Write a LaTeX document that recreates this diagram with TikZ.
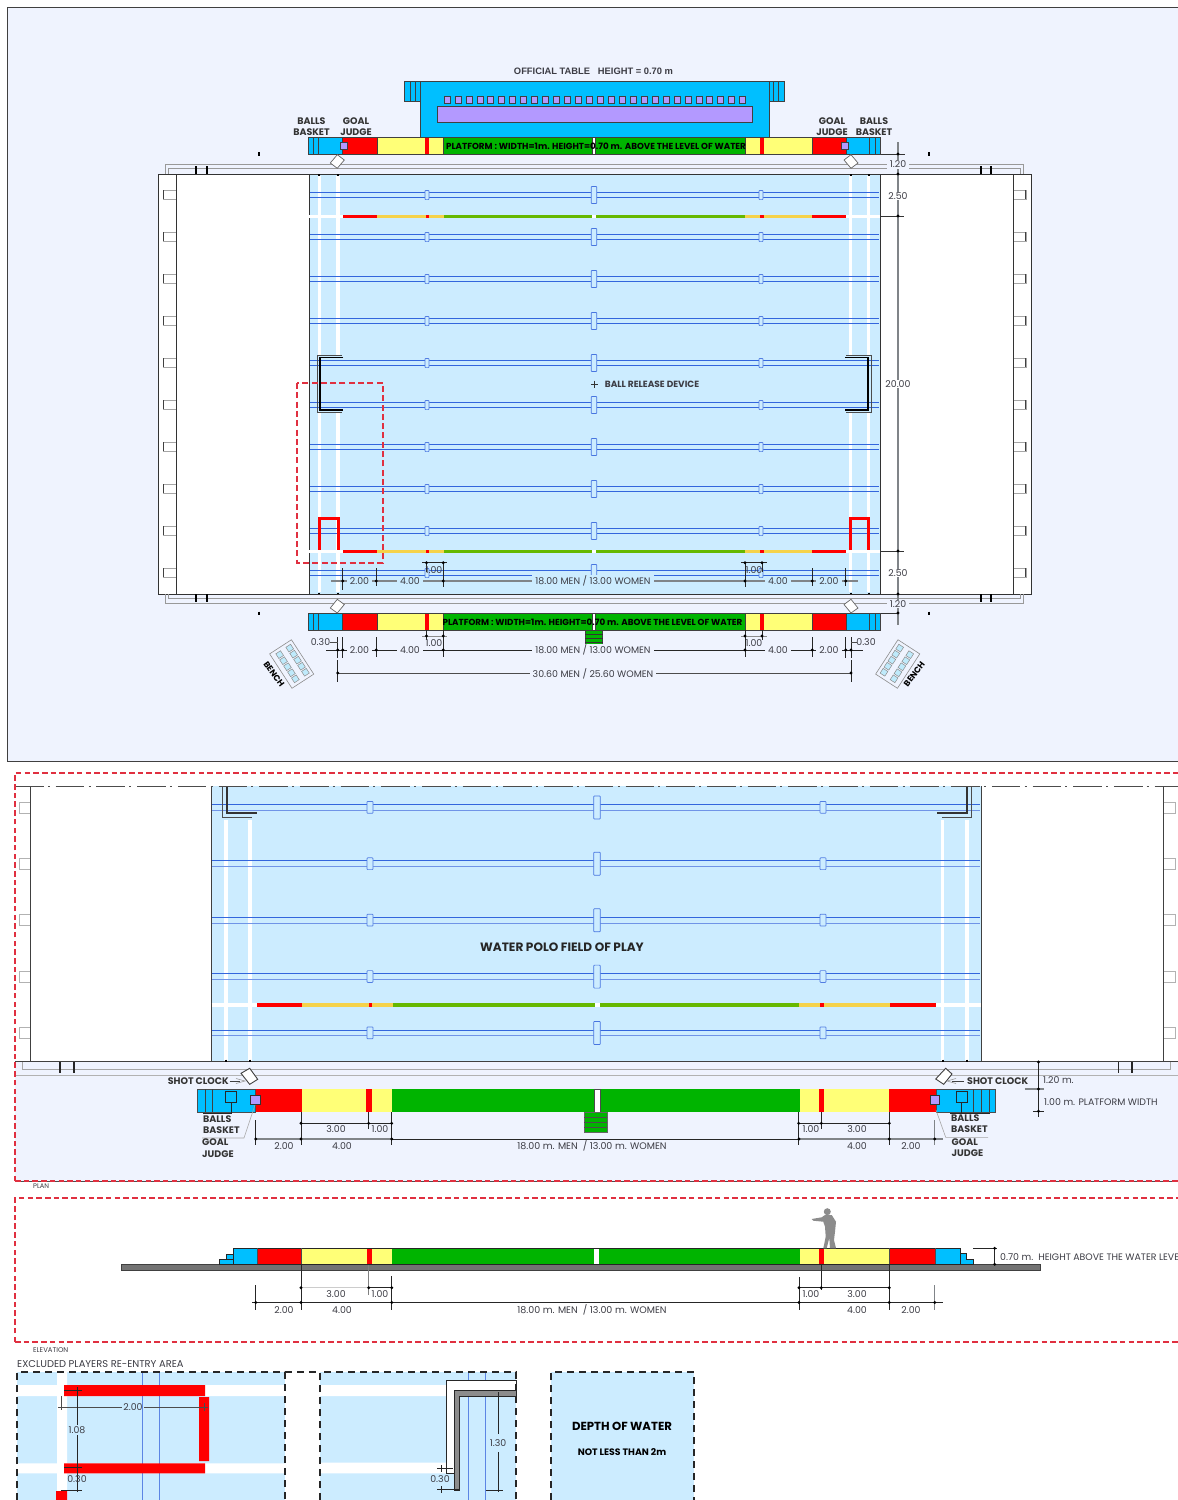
\documentclass[tikz,border=0pt]{standalone}
\usepackage{fontspec}
\setmainfont{Poppins}
\newfontfamily\arialf{Liberation Sans}
\definecolor{panel}{HTML}{EFF3FE}
\definecolor{water}{HTML}{CCECFF}
\definecolor{pblue}{HTML}{00BFFF}
\definecolor{pyel}{HTML}{FFFF77}
\definecolor{pgreen}{HTML}{00B400}
\definecolor{ppurp}{HTML}{B399FF}
\definecolor{lane}{HTML}{3366DD}
\definecolor{lineyel}{HTML}{F5D24A}
\definecolor{linegrn}{HTML}{66B800}
\definecolor{txtc}{HTML}{3C3C44}
\definecolor{dimgrey}{HTML}{808488}
\definecolor{redbox}{HTML}{E03040}
\newcounter{lbn}
\tikzset{
  txt/.style={inner sep=0pt,font=\fontsize{9.4}{11}\selectfont,text=txtc,align=center},
  gap/.style={fill=#1,inner xsep=3pt,inner ysep=1pt},
  bl/.style={font=\fontsize{9.5}{11.4}\selectfont\bfseries,text=black!80,align=left},
  hard/.style={line width=.8pt,draw=black!85},
  soft/.style={line width=1.3pt,draw=dimgrey},
  redline/.style={draw=redbox,line width=1.2pt,dash pattern=on 5.5pt off 3.2pt},
  blackdash/.style={draw=black!85,line width=1.3pt,dash pattern=on 7pt off 5pt},
}
\newcommand\TT[3][]{\stepcounter{lbn}\node[txt,#1] (t\thelbn) at (#2) {#3};}
\newcommand\DD[2]{\foreach \q in {#1}{\fill[black] (\q,#2) circle (1.6);}}
\newcommand\STRIP[3]{\foreach \a/\b/\c in {#3}{\fill[\c] (\a,#1) rectangle (\b,#2);}}
\begin{document}
\begin{tikzpicture}[x=1pt,y=-1pt]
\path[use as bounding box] (0,0) rectangle (1178,1500);
\clip (0,0) rectangle (1178,1500);
\fill[white] (0,0) rectangle (1178,1500);
%==== TOP PANEL
\fill[panel] (7,7) rectangle (1178,761);
\draw[black!75,line width=.8pt] (1178,7) -- (7,7) -- (7,761) -- (1178,761);
% deck
\fill[white] (158,174) rectangle (1031,594);
\fill[water] (309,174) rectangle (880,594);
\draw[black!80,line width=.9pt] (158,174) rectangle (1031,594);
\draw[black!80,line width=.8pt] (176,174) -- (176,594) (1013,174) -- (1013,594) (309,174) -- (309,594) (880,174) -- (880,594);
\draw[black!40,line width=.7pt] (165,174) -- (165,164.3) -- (1023,164.3) -- (1023,174) (168,174) -- (168,168.3) -- (1020,168.3) -- (1020,174);
\draw[black!40,line width=.7pt] (165,594) -- (165,603.3) -- (1023,603.3) -- (1023,594) (168,594) -- (168,598.3) -- (1020,598.3) -- (1020,594);
\foreach \x in {196,207,981,991}{\draw[black,line width=1.2pt] (\x,166) -- (\x,174) (\x,594) -- (\x,602);}
\foreach \x in {259,929}{\draw[black,line width=1.2pt] (\x,152) -- (\x,156) (\x,611.5) -- (\x,615);}
\foreach \k in {0,...,9}{
  \pgfmathsetmacro\yc{194.5+42*\k}
  \draw[black!35,line width=.7pt] (175.5,\yc-4.5) -- (163,\yc-4.5) -- (163,\yc+4.5) -- (175.5,\yc+4.5);
  \draw[black!35,line width=.7pt] (1013.5,\yc-4.5) -- (1026,\yc-4.5) -- (1026,\yc+4.5) -- (1013.5,\yc+4.5);
  \draw[black!75,line width=.8pt] (163.5,\yc-4.5) -- (163.5,\yc+4.5) (1025.5,\yc-4.5) -- (1025.5,\yc+4.5);
}
% white lines
\foreach \x in {319.3,338,850.7,868.7}{\draw[white,line width=3.2pt] (\x,176) -- (\x,355) (\x,413) -- (\x,592);
  \draw[black,line width=2pt] (\x,174) -- (\x,175.5) (\x,592.5) -- (\x,594);}
\foreach \y in {216,551}{\draw[white,line width=3pt] (309,\y) -- (343,\y) (846,\y) -- (880,\y) (592.3,\y) -- (595.7,\y);}
% lanes
\foreach \k in {0,...,9}{
  \pgfmathsetmacro\yl{192.7+42*\k}
  \draw[lane,line width=.8pt] (310,\yl) -- (879,\yl) (310,\yl+4.6) -- (879,\yl+4.6);
  \foreach \bx in {427,761}{\filldraw[draw=lane!85,fill=water,line width=.7pt,rounded corners=.7pt] (\bx-2,\yl-2.3) rectangle (\bx+2,\yl+6.9);}
  \filldraw[draw=lane!90,fill=water,line width=.7pt,rounded corners=.7pt] (591.2,\yl-6.2) rectangle (596.8,\yl+10.8);
}
% field lines
\foreach \y in {216,551}{
\foreach \a/\b/\c in {343/377/red,377/426/lineyel,426/429/red,429/444/lineyel,444/592/linegrn,596/745/linegrn,745/760/lineyel,760/763.5/red,763.5/812/lineyel,812/846/red}{
 \draw[\c,line width=3pt] (\a,\y) -- (\b,\y);}}
% re-entry
\draw[red,line width=2.8pt] (319.3,549.5) -- (319.3,518.5) -- (338.3,518.5) -- (338.3,549.5);
\draw[red,line width=2.8pt] (850.7,549.5) -- (850.7,518.5) -- (868.7,518.5) -- (868.7,549.5);
% goals
\draw[black!70,line width=.6pt] (342,355) -- (317.5,355) -- (317.5,412) -- (342,412);
\draw[black,line width=1.3pt] (343,357.5) -- (320,357.5) -- (320,410) -- (343,410);
\draw[black!70,line width=.6pt] (846,355) -- (871,355) -- (871,412) -- (846,412);
\draw[black,line width=1.3pt] (845,357.5) -- (868,357.5) -- (868,410) -- (845,410);
\draw[redbox,line width=1.5pt,dash pattern=on 6pt off 3.3pt] (297,383) rectangle (383,563);
\TT[font=\fontsize{9}{10}\selectfont\bfseries]{652,384}{BALL RELEASE DEVICE}
\draw[black!80,line width=.5pt] (591,384) -- (598,384) (594.5,380.5) -- (594.5,387.5);
% official table
\filldraw[fill=pblue,draw=black!75,line width=.7pt] (404.5,81) rectangle (420,101);
\draw[black!75,line width=.7pt] (410,81) -- (410,101) (415,81) -- (415,101);
\filldraw[fill=pblue,draw=black!75,line width=.7pt] (769,81) rectangle (784,101);
\draw[black!75,line width=.7pt] (773.5,81) -- (773.5,101) (778.5,81) -- (778.5,101);
\filldraw[fill=pblue,draw=black!75,line width=.7pt] (420,81) rectangle (769,137);
\foreach \k in {0,...,27}{\filldraw[fill=ppurp,draw=black!75,line width=.7pt] (444+10.95*\k,96.5) rectangle (450+10.95*\k,103.5);}
\filldraw[fill=ppurp,draw=black!75,line width=.7pt] (437,106.5) rectangle (752,122.5);
\TT[font=\fontsize{9.35}{10}\selectfont\arialf\bfseries]{593.5,71}{OFFICIAL TABLE\ \ \ HEIGHT = 0.70 m}
\TT[bl,align=center]{311.5,126.5}{BALLS\\BASKET}
\TT[bl,align=center]{356,126.5}{GOAL\\JUDGE}
\TT[bl,align=center]{832,126.5}{GOAL\\JUDGE}
\TT[bl,align=center]{874,126.5}{BALLS\\BASKET}
% platforms top & bottom
\foreach \ya/\yb in {137/154,613.3/630}{
\STRIP{\ya}{\yb}{308/342/pblue,342/377/red,377/425/pyel,425/428.5/red,428.5/443/pyel,443/592.3/pgreen,592.3/595.7/white,595.7/745/pgreen,745/759.7/pyel,759.7/763.5/red,763.5/812/pyel,812/846/red,846/880.7/pblue}
\draw[black!75,line width=.7pt] (308,\ya) rectangle (880.7,\yb);
\draw[black!75,line width=.7pt] (313.5,\ya) -- (313.5,\yb) (318,\ya) -- (318,\yb) (869.3,\ya) -- (869.3,\yb) (875.3,\ya) -- (875.3,\yb) (342,\ya) -- (342,\yb) (377,\ya) -- (377,\yb) (443,\ya) -- (443,\yb) (745,\ya) -- (745,\yb) (812,\ya) -- (812,\yb) (846,\ya) -- (846,\yb) (592.3,\ya) -- (592.3,\yb) (595.7,\ya) -- (595.7,\yb);
}
\filldraw[fill=ppurp,draw=black!75,line width=.7pt] (340,142) rectangle (347,149);
\filldraw[fill=ppurp,draw=black!75,line width=.7pt] (841.7,142) rectangle (848.7,149);
\TT[font=\fontsize{8.75}{10}\selectfont\bfseries,text=black]{596,146}{PLATFORM : WIDTH=1m. HEIGHT=0.70 m. ABOVE THE LEVEL OF WATER}
\TT[font=\fontsize{8.75}{10}\selectfont\bfseries,text=black]{592.5,622}{PLATFORM : WIDTH=1m. HEIGHT=0.70 m. ABOVE THE LEVEL OF WATER}
\filldraw[fill=pgreen,draw=black!75,line width=.6pt] (585,630) rectangle (602.7,645.7);
\draw[black!80,line width=.6pt] (585,634) -- (602.7,634) (585,638) -- (602.7,638) (585,642) -- (602.7,642);
% shot clocks
\foreach \cx/\s in {337.3/1,851/-1}{\filldraw[fill=white,draw=black!60,line width=.7pt] (\cx-\s*7,163) -- (\cx,154.7) -- (\cx+\s*7,160) -- (\cx,168.3) -- cycle;
 \filldraw[fill=white,draw=black!60,line width=.7pt] (\cx-\s*7,608) -- (\cx,599.3) -- (\cx+\s*7,604.5) -- (\cx,613) -- cycle;}
% right dims
\draw[soft] (898,142) -- (898,625);
\draw[black!80,line width=.8pt] (881,154) -- (905,154) (881,613) -- (898,613) (880,174) -- (904,174) (880,216) -- (904,216) (880,551) -- (904,551) (880,594) -- (904,594);
\DD{898}{154} \DD{898}{174} \DD{898}{216} \DD{898}{551} \DD{898}{594} \DD{898}{613}
\TT[gap=panel]{898,164.3}{1.20}
\TT[gap=white]{898,196}{2.50}
\TT[gap=white]{898,384}{20.00}
\TT[gap=white]{898,573}{2.50}
\TT[gap=panel]{898,604}{1.20}
% water dims y=581
\draw[soft] (331,581) -- (858,581);
\draw[hard] (342.7,568) -- (342.7,590) (376.3,568) -- (376.3,586) (443.3,562.7) -- (443.3,587) (745,562.7) -- (745,587) (812.3,568) -- (812.3,586) (845.7,568) -- (845.7,586) (426.5,562.7) -- (426.5,572) (762,562.7) -- (762,572);
\draw[hard] (422,562.7) -- (447,562.7) (741,562.7) -- (766.7,562.7);
\DD{342.7,376.3,443.3,745,812.3,845.7}{581} \DD{426.5,443.3,745,762}{562.7}
\TT{434,570}{1.00}
\TT{754,570}{1.00}
\TT[gap=water]{359.5,581}{2.00}
\TT[gap=water]{410,581}{4.00}
\TT[gap=water]{593,581}{18.00 MEN / 13.00 WOMEN}
\TT[gap=water]{778,581}{4.00}
\TT[gap=water]{829,581}{2.00}
% below platform dims
\draw[hard] (326,650) -- (863,650);
\draw[hard] (337.7,637) -- (337.7,658) (342.7,637) -- (342.7,658) (376.3,637) -- (376.3,657) (443.3,630) -- (443.3,657) (745,630) -- (745,657) (812.3,637) -- (812.3,657) (845.7,637) -- (845.7,658) (851,637) -- (851,658) (426.5,630) -- (426.5,640) (762,630) -- (762,640);
\draw[black!45,line width=.7pt] (422,636) -- (447,636) (741,636) -- (766.7,636);
\draw[black!70,line width=.6pt] (329.5,642) -- (337.7,642) (851,642) -- (857,642);
\DD{337.7,342.7,376.3,443.3,745,812.3,845.7,851}{650} \DD{426.5,443.3,745,762}{636}
\TT{434,643}{1.00}
\TT{754,643}{1.00}
\TT{320.5,642}{0.30}
\TT{866,642}{0.30}
\TT[gap=panel]{359.5,650}{2.00}
\TT[gap=panel]{410,650}{4.00}
\TT[gap=panel]{593,650}{18.00 MEN / 13.00 WOMEN}
\TT[gap=panel]{778,650}{4.00}
\TT[gap=panel]{829,650}{2.00}
\draw[hard] (337.7,660) -- (337.7,682) (851,660) -- (851,682);
\draw[black!70,line width=1pt] (337.7,673) -- (851,673);
\DD{337.7,851}{673}
\TT[gap=panel]{593,673.5}{30.60 MEN / 25.60 WOMEN}
% benches
\foreach \cx/\ang in {291.7/-57,897.7/57}{
\begin{scope}[shift={(\cx,664)},rotate=\ang]
 \draw[black!45,line width=.6pt] (-20.5,-13) rectangle (20.5,13);
 \foreach \i in {-14.4,-7.2,0,7.2,14.4}{\foreach \j in {-7,5}{
  \filldraw[fill=cyan!25,draw=black!45,line width=.5pt] (\i-2.8,\j-2.8) rectangle (\i+2.8,\j+2.8);}}
\end{scope}}
\TT[font=\fontsize{8.4}{10}\selectfont\bfseries,text=black,rotate=-54]{274,674}{BENCH}
\TT[font=\fontsize{8.4}{10}\selectfont\bfseries,text=black,rotate=53]{914.3,674}{BENCH}
%==== PLAN PANEL
\fill[panel] (15,1062) rectangle (1178,1181);
\fill[white] (15,773) rectangle (1178,1062);
\fill[water] (211,786) rectangle (981,1062);
\draw[black!75,line width=.8pt] (30,786) -- (30,1062) (211,786) -- (211,1062) (981,786) -- (981,1062) (1163,786) -- (1163,1062);
\draw[black!75,line width=.8pt] (15,1061.7) -- (1178,1061.7);
\draw[black!70,line width=.8pt] (15,1181) -- (1178,1181);
\draw[black!35,line width=.9pt] (22,1062) -- (22,1069.3) -- (1170,1069.3) -- (1170,1062);
\draw[black!30,line width=1pt] (16,1075) -- (1178,1075);
\foreach \x in {60,74,1118.7,1132}{\draw[black!85,line width=1.3pt] (\x,1062) -- (\x,1073);}
\foreach \k in {0,...,4}{
  \pgfmathsetmacro\yc{807.5+56.4*\k}
  \draw[black!30,line width=.8pt] (29.5,\yc-5.5) -- (19.5,\yc-5.5) -- (19.5,\yc+5.5) -- (29.5,\yc+5.5);
  \draw[black!30,line width=.8pt] (1163.5,\yc-5.5) -- (1175,\yc-5.5) -- (1175,\yc+5.5) -- (1163.5,\yc+5.5);
}
\foreach \x in {226,250,942.5,967}{\draw[white,line width=3.8pt] (\x,820) -- (\x,1061);
  \draw[black,line width=2pt] (\x,1059.5) -- (\x,1061.5);}
\draw[white,line width=3.8pt] (211.5,1005) -- (257,1005) (936,1005) -- (980.5,1005) (595,1005) -- (600,1005);
\foreach \k in {0,...,4}{
  \pgfmathsetmacro\yl{804.4+56.4*\k}
  \draw[lane,line width=.8pt] (212,\yl) -- (980,\yl);
  \draw[lane!70,line width=1pt] (212,\yl+5.8) -- (980,\yl+5.8);
  \foreach \bx in {370,823}{\filldraw[draw=lane!85,fill=water,line width=.7pt,rounded corners=.7pt] (\bx-3,\yl-3) rectangle (\bx+3,\yl+8.8);}
  \filldraw[draw=lane!90,fill=water,line width=.7pt,rounded corners=.7pt] (593.7,\yl-8.5) rectangle (600.3,\yl+14.5);
}
\foreach \a/\b/\c in {257/302/red,302/369/lineyel,369/372/red,372/393/lineyel,393/595/linegrn,600/799/linegrn,799/820/lineyel,820/824/red,824/890/lineyel,890/936/red}{\draw[\c,line width=4pt] (\a,1005) -- (\b,1005);}
\TT[font=\fontsize{12.1}{13}\selectfont\bfseries,text=black!85]{562,947}{WATER POLO FIELD OF PLAY}
\draw[black!70,line width=.7pt] (222.3,786) -- (222.3,817) -- (252.3,817) (971.5,786) -- (971.5,817) -- (941.5,817);
\draw[black!80,line width=1.8pt] (227,786) -- (227,813.3) -- (257,813.3) (967,786) -- (967,813.3) -- (937,813.3);
\draw[black!70,line width=.9pt,dash pattern=on 28.6pt off 4.2pt on 2pt off 5.9pt] (15,786) -- (1178,786);
\draw[redline] (15,1181) -- (15,773) -- (1178,773);
\draw[redline] (15,1181) -- (1178,1181);
\TT[font=\fontsize{6.7}{8}\selectfont,anchor=west]{33,1186}{PLAN}
% shot clocks
\filldraw[fill=white,draw=black!75,line width=.9pt] (241,1073.3) -- (249.7,1068.3) -- (257.7,1079.3) -- (249.7,1084.3) -- cycle;
\filldraw[fill=white,draw=black!75,line width=.9pt] (935.7,1079) -- (945.7,1068.3) -- (952,1074) -- (943.7,1084.3) -- cycle;
\TT[bl,anchor=east]{229,1081}{SHOT CLOCK}
\TT[bl,anchor=west]{967,1081}{SHOT CLOCK}
\draw[black!75,line width=.6pt] (229.5,1081) -- (240,1081);
\draw[black!40,line width=.6pt] (236,1078.5) -- (245,1081) -- (236,1083.5);
\draw[black!75,line width=.6pt] (964,1081) -- (952,1081);
\draw[black!40,line width=.6pt] (956,1078.5) -- (947,1081) -- (956,1083.5);
% platform
\STRIP{1089}{1112}{197.7/255.5/pblue,255.5/301.7/red,301.7/366/pyel,366/371.7/red,371.7/391.7/pyel,391.7/594/pgreen,594/600/white,600/799.7/pgreen,799.7/818.7/pyel,818.7/824.3/red,824.3/889.3/pyel,889.3/936/red,936/995.7/pblue}
\draw[black!70,line width=.6pt] (197.7,1089) rectangle (255.5,1112) (936,1089) rectangle (995.7,1112) (594,1089) rectangle (600,1112);
\draw[black!75,line width=.6pt] (205,1089) -- (205,1112) (212,1089) -- (212,1112) (973,1089) -- (973,1112) (981.7,1089) -- (981.7,1112) (989,1089) -- (989,1112);
\filldraw[fill=pblue,draw=black!85,line width=1.2pt] (225.7,1091.7) rectangle (236.7,1102.3);
\filldraw[fill=pblue,draw=black!85,line width=1.2pt] (956.7,1091.7) rectangle (967.3,1102.3);
\filldraw[fill=ppurp,draw=black!80,line width=.8pt] (250.3,1095.3) rectangle (260,1104.7);
\filldraw[fill=ppurp,draw=black!80,line width=.8pt] (930,1095.3) rectangle (939.3,1104.7);
\filldraw[fill=pgreen,draw=black!60,line width=.6pt] (584,1112) rectangle (607,1132.5);
\draw[black!70,line width=.6pt] (584,1117) -- (607,1117) (584,1122) -- (607,1122) (584,1127) -- (607,1127);
% leaders and labels
\draw[black!85,line width=.7pt] (231.5,1102) -- (231.5,1113.3) -- (203,1113.3);
\draw[black!85,line width=.7pt] (961.7,1102) -- (961.7,1113.3) -- (990,1113.3) (961.7,1113.3) -- (950,1113.3);
\draw[black!35,line width=.6pt] (255,1105) -- (244,1138) -- (202,1138);
\draw[black!35,line width=.6pt] (936,1110) -- (945.7,1137.3) -- (988,1137.3);
\TT[bl,anchor=west]{203,1124.5}{BALLS\\BASKET}
\TT[bl,anchor=west]{202,1148}{GOAL\\JUDGE}
\TT[bl,anchor=west]{951,1123.5}{BALLS\\BASKET}
\TT[bl,anchor=west]{951.5,1147.5}{GOAL\\JUDGE}
% plan dims
\draw[hard] (301,1123.3) -- (391.7,1123.3) (798.7,1123.3) -- (889.3,1123.3);
\draw[hard] (301,1112) -- (301,1145) (368.7,1112) -- (368.7,1129) (391.7,1112) -- (391.7,1145) (798.7,1112) -- (798.7,1145) (821.3,1112) -- (821.3,1129) (889.3,1112) -- (889.3,1145) (255.7,1120) -- (255.7,1145);
\draw[soft] (934.7,1120) -- (934.7,1145) (255.7,1139) -- (391.7,1139) (799,1139) -- (943,1139);
\draw[black!85,line width=.8pt] (391.7,1139) -- (799,1139);
\DD{301,368.7,391.7,798.7,821.3,889.3}{1123.3}
\DD{255.7,301,391.7,799,889.3,934.7}{1139}
\TT{336,1129}{3.00}
\TT{380,1129}{1.00}
\TT{811,1129}{1.00}
\TT{857,1129}{3.00}
\TT{284,1146}{2.00}
\TT{342,1146}{4.00}
\TT[gap=panel,font=\fontsize{9.5}{11}\selectfont]{592,1146}{18.00 m. MEN\ \ / 13.00 m. WOMEN}
\TT{857,1146}{4.00}
\TT{911,1146}{2.00}
\draw[hard] (1038.5,1062) -- (1038.5,1117) (1033,1111.3) -- (1044,1111.3);
\draw[soft] (1024.7,1089) -- (1044,1089);
\DD{1038.5}{1062} \DD{1038.5}{1089} \DD{1038.5}{1111.3}
\TT[anchor=west]{1043,1080}{1.20 m.}
\TT[anchor=west]{1044,1102}{1.00 m. PLATFORM WIDTH}
%==== ELEVATION
\draw[redline] (15,1342) -- (15,1198) -- (1178,1198);
\draw[redline] (15,1342) -- (1178,1342);
\filldraw[fill=black!55,draw=black!75,line width=.7pt] (121.3,1264.3) rectangle (1040.5,1270.5);
\filldraw[fill=pblue,draw=black!85,line width=.7pt] (219.3,1264.3) -- (219.3,1259) -- (226,1259) -- (226,1254) -- (233.3,1254) -- (233.3,1248.3) -- (257,1248.3) -- (257,1264.3) -- cycle;
\draw[black!85,line width=.6pt] (233.3,1254) -- (233.3,1264.3) (226,1259) -- (233.3,1259);
\filldraw[fill=pblue,draw=black!85,line width=.7pt] (973.3,1264.3) -- (973.3,1259.3) -- (966.7,1259.3) -- (966.7,1253.3) -- (960,1253.3) -- (960,1248.3) -- (935,1248.3) -- (935,1264.3) -- cycle;
\draw[black!85,line width=.6pt] (960,1253.3) -- (960,1264.3);
\STRIP{1248.3}{1264.3}{257/301.7/red,301.7/367/pyel,367/371.7/red,371.7/391.7/pyel,391.7/594/pgreen,594/599/white,599/799.7/pgreen,799.7/818.7/pyel,818.7/824.3/red,824.3/889.3/pyel,889.3/935/red}
\draw[black!85,line width=.7pt] (257,1248.3) -- (935,1248.3) (257,1264.3) -- (935,1264.3);
\draw[black!70,line width=.6pt] (301.7,1248.3) -- (301.7,1264.3) (889.3,1248.3) -- (889.3,1264.3) (935,1248.3) -- (935,1264.3) (257,1248.3) -- (257,1264.3);
% person
\fill[black!45] (811.7,1219) -- (821.7,1217.3) -- (825,1215) -- (831.7,1215) -- (836,1221.7) -- (835,1231.7) -- (834,1240) -- (836,1248.3) -- (830,1248.3) -- (829.3,1238) -- (826.7,1248.3) -- (823.3,1248.3) -- (825.7,1236.7) -- (825,1226.7) -- (823.3,1221.7) -- (813.3,1220.7) -- cycle;
\fill[black!45] (827.3,1211.7) circle (3.5);
% elevation dims
\draw[black!20,line width=1pt] (301,1287.7) -- (368.7,1287.7);
\draw[hard] (821.3,1287.7) -- (889.3,1287.7) (799,1287.7) -- (821.3,1287.7) (368.7,1287.7) -- (391.7,1287.7);
\draw[hard] (252,1302.5) -- (943,1302.5);
\draw[hard] (301,1264.5) -- (301,1310) (391.7,1276) -- (391.7,1310) (255.7,1285) -- (255.7,1310) (799,1277) -- (799,1310) (821.3,1264.5) -- (821.3,1290) (889.3,1264.5) -- (889.3,1310);
\draw[black!50,line width=.9pt] (368.7,1264.5) -- (368.7,1295);
\draw[soft] (934.7,1285) -- (934.7,1310);
\DD{301,368.7,391.7,799,821.3,889.3}{1287.7}
\DD{255.7,301,391.7,799,889.3,934.7}{1302.5}
\TT{336,1294}{3.00}
\TT{380,1294}{1.00}
\TT{811,1294}{1.00}
\TT{857,1294}{3.00}
\TT{284,1310}{2.00}
\TT{342,1310}{4.00}
\TT[gap=white,font=\fontsize{9.5}{11}\selectfont]{592,1310}{18.00 m. MEN\ \ / 13.00 m. WOMEN}
\TT{857,1310}{4.00}
\TT{911,1310}{2.00}
\draw[hard] (973.3,1248.3) -- (997,1248.3) (994.7,1248.3) -- (994.7,1264.3);
\DD{994.7}{1248.3} \DD{994.7}{1264.3}
\TT[anchor=west]{1000,1257}{0.70 m.\ \ HEIGHT ABOVE THE WATER LEVEL}
\TT[font=\fontsize{6.9}{8}\selectfont,anchor=west]{33,1350}{ELEVATION}
\TT[anchor=west,font=\fontsize{9.9}{11}\selectfont]{17,1364}{EXCLUDED PLAYERS RE-ENTRY AREA}
%==== DETAILS
\fill[water] (17,1372) rectangle (285,1500);
\fill[white] (17,1385) rectangle (285,1396) (17,1463.3) rectangle (285,1473.3) (57,1372) rectangle (67,1500);
\draw[lane!80,line width=.9pt] (142,1372) -- (142,1500) (159,1372) -- (159,1500);
\fill[red] (64,1385) rectangle (205,1396) (64,1463.3) rectangle (205,1473.3) (199,1397) rectangle (209,1461) (56,1491) rectangle (67,1500);
\draw[black!70,line width=.7pt] (58,1407) -- (122,1407) (144,1407) -- (208,1407) (61.7,1396) -- (61.7,1410) (204,1403) -- (204,1411);
\draw[hard] (77.7,1387) -- (77.7,1425) (77.7,1435) -- (77.7,1492) (64,1390.7) -- (81.7,1390.7) (64,1467.7) -- (81.7,1467.7) (61,1490.7) -- (81.7,1490.7);
\TT{133,1407}{2.00}
\TT{77,1430}{1.08}
\TT{77,1479}{0.30}
\draw[blackdash] (17,1500) -- (17,1372) -- (285,1372) -- (285,1500);
\draw[blackdash] (285,1372) -- (320,1372);
% box 2
\fill[water] (320,1372) rectangle (516,1500);
\fill[white] (320,1385) rectangle (446,1396) (320,1462.7) rectangle (446,1473.3);
\draw[lane!80,line width=.9pt] (468.3,1372) -- (468.3,1500) (485.7,1372) -- (485.7,1500);
\filldraw[fill=white,draw=black!85,line width=.7pt] (516,1380.7) -- (446.7,1380.7) -- (446.7,1473.3) -- (454,1473.3) -- (454,1390.7) -- (516,1390.7) -- cycle;
\filldraw[fill=black!45,draw=black!85,line width=.7pt] (516,1390.7) -- (454,1390.7) -- (454,1490) -- (459.3,1490) -- (459.3,1396.7) -- (516,1396.7) -- cycle;
\draw[hard] (498.7,1392) -- (498.7,1434) (498.7,1452) -- (498.7,1492) (485.7,1490) -- (503,1490) (441,1465) -- (441,1472) (441,1486) -- (441,1493) (437,1468) -- (453,1468) (437,1489.7) -- (459,1489.7);
\TT{498,1443}{1.30}
\TT{440,1479}{0.30}
\draw[blackdash] (320,1500) -- (320,1372) -- (516,1372) -- (516,1500);
% box 3
\fill[water] (551,1372) rectangle (694,1500);
\draw[blackdash] (551,1500) -- (551,1372) -- (694,1372) -- (694,1500);
\TT[font=\fontsize{11.7}{13}\selectfont\bfseries,text=black]{622,1426}{DEPTH OF WATER}
\TT[font=\fontsize{9.35}{10}\selectfont\bfseries,text=black]{622,1452.5}{NOT LESS THAN 2m}
\end{tikzpicture}
\end{document}
